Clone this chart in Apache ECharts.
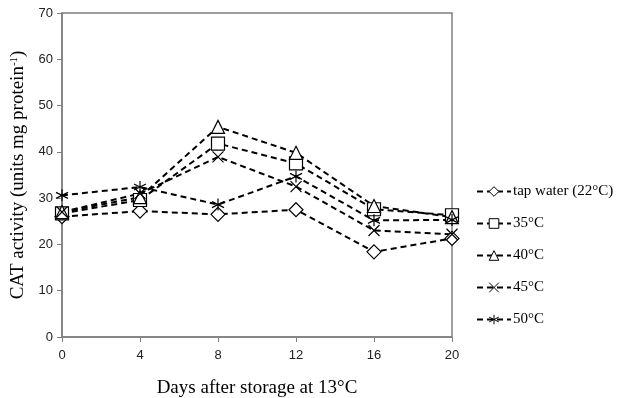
<!DOCTYPE html>
<html>
<head>
<meta charset="utf-8">
<script src="https://cdn.jsdelivr.net/npm/echarts@6/dist/echarts.min.js"></script>
<style>
  html, body { margin: 0; padding: 0; background: #fff; }
  #chart { width: 617px; height: 398px; }
</style>
</head>
<body>
<div id="chart"></div>
<script>
// days after storage
const days = [0, 4, 8, 12, 16, 20];

// CAT activity per treatment
const tapWater = [26.0, 27.2, 26.5, 27.5, 18.4, 21.3];
const temp35 = [26.7, 29.6, 41.8, 37.5, 27.6, 26.3];
const temp40 = [27.0, 30.2, 45.4, 39.8, 28.3, 25.9];
const temp45 = [27.0, 31.0, 38.9, 32.5, 23.0, 22.2];
const temp50 = [30.6, 32.4, 28.6, 34.7, 25.2, 25.3];

const seriesNames = ['tap water (22°C)', '35°C', '40°C', '45°C', '50°C'];
const yTicks = [0, 10, 20, 30, 40, 50, 60, 70];

const crossPath = 'path://M0,0L10,10M10,0L0,10';
const starPath = 'path://M5,0L5,10M0.7,2.5L9.3,7.5M0.7,7.5L9.3,2.5';

const makeSeries = (name, values, symbol, size) => ({
  name: name,
  type: 'line',
  data: days.map((d, i) => [d, values[i]]),
  symbol: symbol,
  symbolSize: size,
  showAllSymbol: true,
  lineStyle: { color: '#000', width: 2, type: [6, 4] },
  itemStyle: { color: '#fff', borderColor: '#000', borderWidth: 1.2 },
  emphasis: { disabled: true },
  z: 2
});

const chart = echarts.init(document.getElementById('chart'), null, { renderer: 'canvas' });

chart.setOption({
  animation: false,
  backgroundColor: '#fff',
  grid: {
    left: 62, right: 165, top: 13, bottom: 61,
    containLabel: false, outerBoundsMode: 'none',
    show: true, borderColor: '#7f7f7f', borderWidth: 1.5
  },
  legend: {
    orient: 'vertical',
    left: 471,
    top: 179,
    itemWidth: 34,
    itemHeight: 12,
    itemGap: 17,
    data: seriesNames,
    itemStyle: { borderWidth: 1 },
    textStyle: { fontFamily: 'Liberation Serif', fontSize: 15, color: '#000', padding: [0, 0, 0, -3] }
  },
  xAxis: {
    type: 'value',
    min: 0,
    max: 20,
    interval: 4,
    name: 'Days after storage at 13°C',
    nameLocation: 'middle',
    nameGap: 42,
    nameTextStyle: { fontFamily: 'Liberation Serif', fontSize: 19, color: '#000' },
    axisLine: { show: true, lineStyle: { color: '#7f7f7f', width: 1.5 } },
    axisTick: { show: true, length: 5, lineStyle: { color: '#7f7f7f' } },
    axisLabel: { fontFamily: 'Liberation Sans', fontSize: 13, color: '#222', margin: 12 },
    splitLine: { show: false }
  },
  yAxis: {
    type: 'value',
    min: 0,
    max: 70,
    interval: 10,
    name: 'CAT activity (units mg protein{sup|-1})',
    nameLocation: 'middle',
    nameGap: 24,
    nameTextStyle: {
      fontFamily: 'Liberation Serif', fontSize: 19, color: '#000',
      rich: { sup: { fontFamily: 'Liberation Serif', fontSize: 11, color: '#000', verticalAlign: 'top', lineHeight: 12 } }
    },
    axisLine: { show: true, lineStyle: { color: '#7f7f7f', width: 1.5 } },
    axisTick: { show: true, length: 5, lineStyle: { color: '#7f7f7f' } },
    axisLabel: {
      fontFamily: 'Liberation Sans', fontSize: 13, color: '#222', margin: 9,
      formatter: v => (yTicks.includes(v) ? String(v) : '')
    },
    splitLine: { show: false }
  },
  series: [
    makeSeries(seriesNames[0], tapWater, 'diamond', 14),
    makeSeries(seriesNames[1], temp35, 'rect', 13),
    makeSeries(seriesNames[2], temp40, 'triangle', 13),
    makeSeries(seriesNames[3], temp45, crossPath, 11),
    makeSeries(seriesNames[4], temp50, starPath, 12)
  ]
});
</script>
</body>
</html>
